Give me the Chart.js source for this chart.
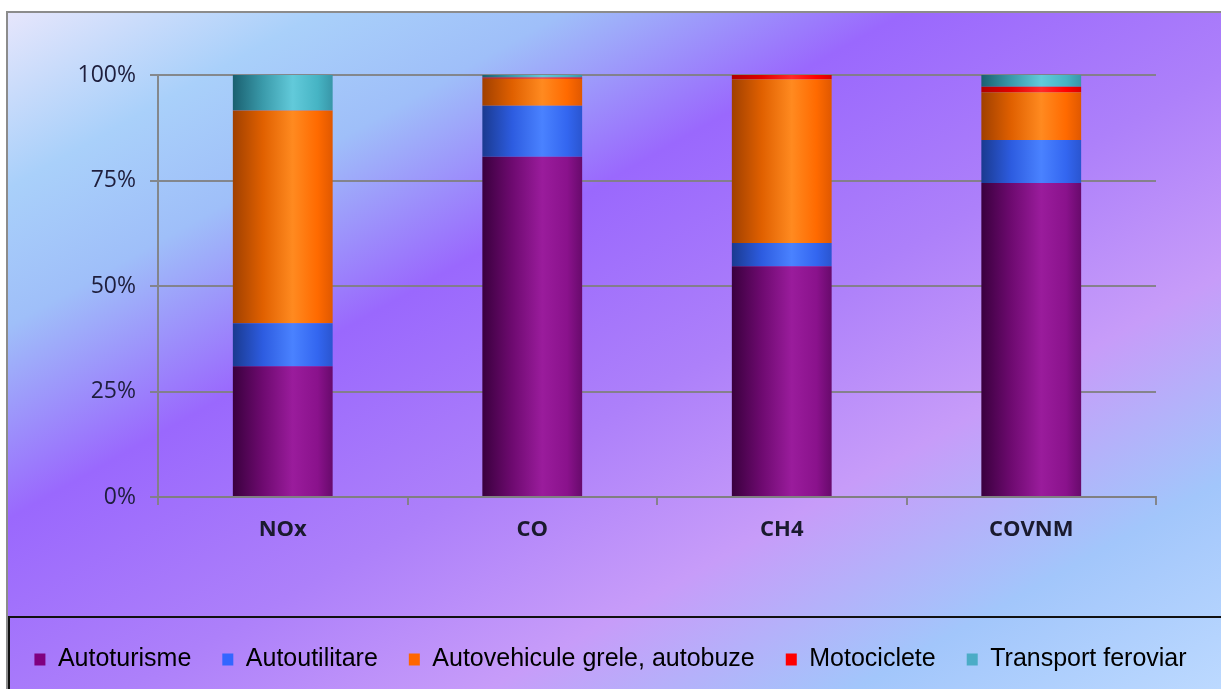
<!DOCTYPE html>
<html>
<head>
<meta charset="utf-8">
<script src="https://cdn.jsdelivr.net/npm/chart.js@4.4.0/dist/chart.umd.min.js"></script>
<style>
  html, body { margin: 0; padding: 0; background: #fff; }
</style>
</head>
<body>
<canvas id="emChart" width="1221" height="689"></canvas>
<script>
const categories = ["NOx", "CO", "CH4", "COVNM"];
const seriesNames = ["Autoturisme", "Autoutilitare", "Autovehicule grele, autobuze", "Motociclete", "Transport feroviar"];
const autoturisme = [31.0, 80.6, 54.7, 74.4];
const autoutilitare = [10.2, 12.1, 5.5, 10.2];
const autovehiculeGrele = [50.3, 6.4, 38.8, 11.3];
const motociclete = [0.1, 0.3, 1.0, 1.3];
const transportFeroviar = [8.4, 0.6, 0.0, 2.8];
const yTicks = [0, 25, 50, 75, 100];

// flat colours for the legend, shaded stops for the cylinders
const baseColors = ["#800080", "#3366ff", "#ff6600", "#ff0000", "#4bacc6"];
const shades = [
  ["#3a003e", "#6e0a70", "#9a1c9c", "#8a128c", "#680a6c"],
  ["#1a3a90", "#2d5ce0", "#4a82ff", "#3366f0", "#2a55d0"],
  ["#a04000", "#e06000", "#ff8a20", "#ff6a00", "#e05800"],
  ["#b00000", "#e00000", "#ff2a2a", "#ff0000", "#d80000"],
  ["#1a6070", "#3a9aaa", "#62cada", "#46b4c4", "#3896a8"],
];
const barPct = 0.4;
const gridGray = "rgba(128,128,128,0.9)";
const plotBottom = 497;
const legendShift = 7;

function cylinder(ctx) {
  const chart = ctx.chart;
  const stops = shades[ctx.datasetIndex];
  const xs = chart.scales.x;
  if (!xs || ctx.dataIndex === undefined || !chart.chartArea) return stops[1];
  const cx = xs.getPixelForValue(ctx.dataIndex);
  const half = (xs.width / categories.length) * barPct / 2;
  if (!isFinite(cx) || !half) return stops[1];
  const g = chart.ctx.createLinearGradient(cx - half, 0, cx + half, 0);
  g.addColorStop(0, stops[0]);
  g.addColorStop(0.3, stops[1]);
  g.addColorStop(0.6, stops[2]);
  g.addColorStop(0.85, stops[3]);
  g.addColorStop(1, stops[4]);
  return g;
}

const backdrop = {
  id: "backdrop",
  beforeDraw(chart) {
    const { ctx, width, height } = chart;
    ctx.save();
    ctx.fillStyle = "#ffffff";
    ctx.fillRect(0, 0, width, height);
    const k = 2 / (1 / (width * width) + 1 / (height * height));
    const g = ctx.createLinearGradient(0, 0, k / width, k / height);
    g.addColorStop(0, "#ece8fc");
    g.addColorStop(0.14, "#a9d0fa");
    g.addColorStop(0.24, "#9fbff9");
    g.addColorStop(0.38, "#9a68fd");
    g.addColorStop(0.55, "#ad80fa");
    g.addColorStop(0.7, "#c79cf9");
    g.addColorStop(0.85, "#a2c6fb");
    g.addColorStop(1, "#bcd9ff");
    ctx.fillStyle = g;
    ctx.fillRect(7, 12, width - 7, height - 12);
    ctx.strokeStyle = "#8c8c8c";
    ctx.lineWidth = 2;
    ctx.beginPath();
    ctx.moveTo(7, height);
    ctx.lineTo(7, 12);
    ctx.lineTo(width, 12);
    ctx.stroke();
    // legend frame
    ctx.strokeStyle = "#111111";
    ctx.strokeRect(9, 617, width, height);
    ctx.restore();
  },
};

const seriesValues = [autoturisme, autoutilitare, autovehiculeGrele, motociclete, transportFeroviar];

new Chart(document.getElementById("emChart"), {
  type: "bar",
  data: {
    labels: categories,
    datasets: seriesNames.map((name, i) => ({
      label: name,
      data: seriesValues[i],
      backgroundColor: cylinder,
      borderWidth: 0,
      barPercentage: barPct,
      categoryPercentage: 1,
    })),
  },
  options: {
    responsive: false,
    animation: false,
    layout: { padding: { top: 75, right: 0, left: 0, bottom: legendShift } },
    plugins: {
      tooltip: { enabled: false },
      legend: {
        position: "bottom",
        labels: {
          font: { family: "'Liberation Sans', Arial", size: 25 },
          color: "#000",
          boxWidth: 11,
          boxHeight: 12,
          padding: 31,
          generateLabels: () =>
            seriesNames.map((name, i) => ({
              text: name,
              fillStyle: baseColors[i],
              strokeStyle: baseColors[i],
              lineWidth: 0,
              datasetIndex: i,
              hidden: false,
            })),
        },
      },
    },
    scales: {
      x: {
        stacked: true,
        border: { display: true, color: gridGray, width: 2 },
        grid: { drawOnChartArea: false, drawTicks: true, tickLength: 8, color: gridGray, lineWidth: 2, offset: true },
        ticks: {
          color: "#1a1a2e",
          padding: 12,
          font: { family: "'Open Sans'", size: 22, weight: "bold" },
        },
        afterFit: (scale) => {
          const lh = scale.chart.legend ? scale.chart.legend.height : 80;
          scale.height = 689 - legendShift - lh - plotBottom;
        },
      },
      y: {
        stacked: true,
        min: 0,
        max: 100,
        border: { display: true, color: gridGray, width: 2 },
        grid: { color: gridGray, lineWidth: 2, tickLength: 8 },
        afterBuildTicks: (axis) => { axis.ticks = yTicks.map((v) => ({ value: v })); },
        ticks: {
          color: "#1e1e3c",
          padding: 14,
          font: { family: "'Open Sans'", size: 23 },
          callback: (v) => v + "%",
        },
        afterFit: (scale) => { scale.width = 158; },
      },
      // empty right-hand spacer so the legend keeps the full width
      spacer: {
        type: "linear",
        position: "right",
        display: true,
        ticks: { display: false },
        grid: { display: false, drawOnChartArea: false },
        border: { display: false },
        afterFit: (scale) => { scale.width = 65; },
      },
    },
  },
  plugins: [backdrop],
});
</script>
</body>
</html>
